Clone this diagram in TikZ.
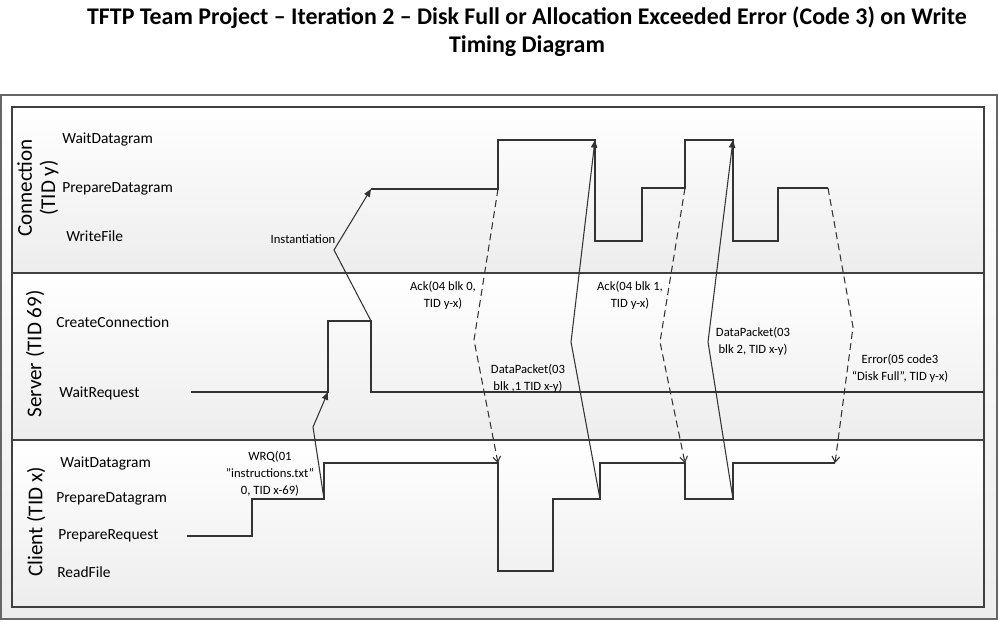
\documentclass[tikz,border=0pt]{standalone}
\usepackage{fontspec}
\setmainfont{Carlito}
\usepackage{tikz}
\usetikzlibrary{arrows.meta}

\begin{document}
\begin{tikzpicture}[x=0.025cm,y=-0.025cm,
	lane/.style={rotate=90,align=center,font=\fontsize{15}{16.5}\selectfont},
	state/.style={anchor=west,inner sep=0pt,font=\fontsize{11}{13}\selectfont},
	msg/.style={align=center,inner sep=0pt,font=\fontsize{9}{12}\selectfont},
	sig/.style={draw=black!80,line width=0.75pt},
	send/.style={sig,-{Triangle[length=5.5pt,width=4.5pt]}},
	reply/.style={sig,dash pattern=on 5pt off 3pt,-{Straight Barb[length=4pt,width=5.5pt]}},
	box/.style={draw=black!75,line width=0.75pt,top color=white,bottom color=gray!14}]
	\useasboundingbox (0,0) rectangle (999,622);

	\node[align=center,font=\fontsize{17}{20}\selectfont\bfseries] (title) at (527,32) {TFTP Team Project -- Iteration 2 -- Disk Full or Allocation Exceeded Error (Code 3) on Write\\Timing Diagram};

	\shadedraw[box,draw=black!60] (1,95) rectangle (997,619);
	\shadedraw[box] (12,107) rectangle (984,273);
	\shadedraw[box] (12,273) rectangle (984,440);
	\shadedraw[box] (12,440) rectangle (984,607);

	\node[lane] (conn) at (38,188) {Connection\\(TID y)};
	\node[lane] (serv) at (35,354) {Server (TID 69)};
	\node[lane] (cli) at (36,522) {Client (TID x)};

	\node[state] (cnwait) at (62,140) {WaitDatagram};
	\node[state] (cnprep) at (62,189) {PrepareDatagram};
	\node[state] (cnwrite) at (66,236) {WriteFile};
	\node[state] (svcreate) at (56,322) {CreateConnection};
	\node[state] (svwait) at (59,393) {WaitRequest};
	\node[state] (clwait) at (60,464) {WaitDatagram};
	\node[state] (clprep) at (56,499) {PrepareDatagram};
	\node[state] (clreq) at (58,536) {PrepareRequest};
	\node[state] (clread) at (57,572) {ReadFile};

	\coordinate (cl1) at (324,499);
	\coordinate (cl2) at (498,463);
	\coordinate (cl3) at (600,499);
	\coordinate (cl4) at (685,463);
	\coordinate (cl5) at (733,499);
	\coordinate (cl6) at (835,463);
	\coordinate (sv1) at (328,392);
	\coordinate (sv2) at (371,321);
	\coordinate (cn1) at (371,189);
	\coordinate (cn2) at (498,189);
	\coordinate (cn3) at (595,140);
	\coordinate (cn4) at (685,188);
	\coordinate (cn5) at (733,140);
	\coordinate (cn6) at (828,188);
	\coordinate (k1) at (313,427);
	\coordinate (k2) at (334,250);
	\coordinate (k3) at (474,340);
	\coordinate (k4) at (571,342);
	\coordinate (k5) at (660,342);
	\coordinate (k6) at (708,342);
	\coordinate (k7) at (853,327);

	\draw[sig] (187,536) -| (252,499) -| (cl1) |- (cl2) |- (553,571) |- (cl3) |- (cl4) |- (cl5) |- (cl6);
	\draw[sig] (191,392) -| (sv1) |- (sv2) |- (984,392);
	\draw[sig] (cn1) -- (cn2) |- (cn3) |- (642,241) |- (cn4) |- (cn5) |- (778,241) |- (cn6);

	\draw[send] (cl1) -- (k1) -- (sv1);
	\draw[send] (sv2) -- (k2) -- (cn1);
	\draw[reply] (cn2) -- (k3) -- (cl2);
	\draw[send] (cl3) -- (k4) -- (cn3);
	\draw[reply] (cn4) -- (k5) -- (cl4);
	\draw[send] (cl5) -- (k6) -- (cn5);
	\draw[reply] (cn6) -- (k7) -- (cl6);

	\node[msg] (wrq) at (270,474) {WRQ(01\\"instructions.txt"\\0, TID x-69)};
	\node[msg] (inst) at (303,239) {Instantiation};
	\node[msg] (ack0) at (443,295) {Ack(04 blk 0,\\TID y-x)};
	\node[msg] (dp1) at (528,378) {DataPacket(03\\blk ,1 TID x-y)};
	\node[msg] (ack1) at (630,295) {Ack(04 blk 1,\\TID y-x)};
	\node[msg] (dp2) at (753,341) {DataPacket(03\\blk 2, TID x-y)};
	\node[msg] (err) at (900,368) {Error(05 code3\\“Disk Full”, TID y-x)};
\end{tikzpicture}
\end{document}
